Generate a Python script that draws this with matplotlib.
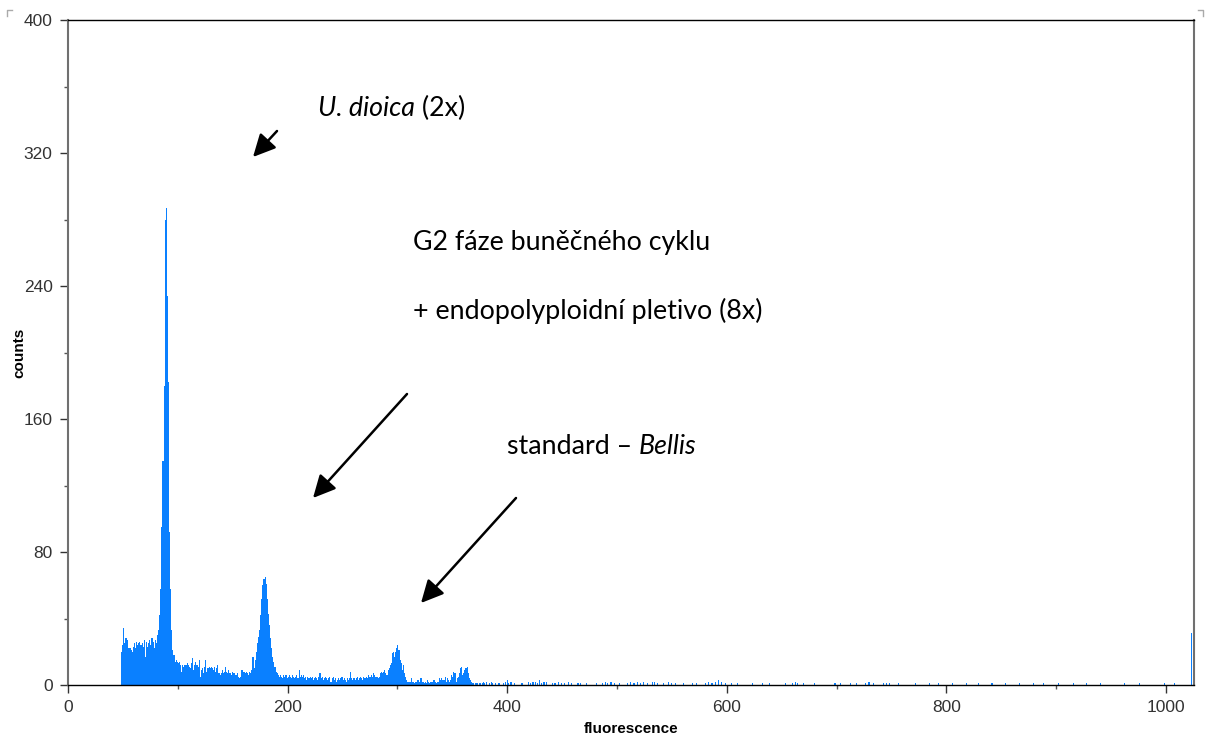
import numpy as np
import matplotlib
matplotlib.use("Agg")
import matplotlib.pyplot as plt
from matplotlib.patches import FancyArrowPatch

# ---- data: counts per channel (dense part, channels 48..380) ----
dense_start = 48
dense_counts = [
    # 48-97
    20, 24, 34, 25, 28, 28, 27, 22, 22, 21, 20, 23, 25, 22, 26, 24, 25, 26, 24, 25,
    23, 27, 17, 26, 23, 25, 27, 24, 28, 26, 22, 27, 25, 30, 33, 42, 58, 95, 135, 180,
    280, 287, 234, 182, 92, 58, 33, 21, 18, 14,
    # 98-190
    15, 14, 13, 14, 12, 8, 12, 11, 12, 12, 13, 12, 11, 10, 13, 16, 9, 12, 14, 12,
    11, 15, 5, 9, 10, 7, 11, 15, 8, 10, 11, 10, 11, 10, 9, 11, 8, 10, 12, 7,
    6, 7, 9, 7, 8, 11, 8, 7, 9, 7, 6, 8, 7, 7, 6, 6, 7, 5, 4, 5,
    9, 8, 8, 7, 8, 7, 6, 8, 7, 9, 17, 10, 15, 20, 25, 29, 33, 42, 52, 60,
    64, 65, 61, 52, 43, 36, 28, 22, 17, 14, 11, 8, 7,
    # 191-280
    6, 5, 6, 5, 4, 6, 5, 6, 4, 5, 6, 5, 4, 6, 5, 4, 5, 6, 4, 9,
    5, 6, 5, 6, 4, 5, 3, 5, 4, 5, 4, 5, 3, 4, 5, 4, 3, 5, 7, 4,
    5, 3, 4, 5, 4, 3, 4, 5, 2, 4, 5, 3, 4, 2, 3, 4, 3, 4, 5, 3,
    4, 3, 2, 4, 3, 4, 8, 4, 3, 4, 3, 4, 5, 3, 4, 5, 4, 3, 5, 4,
    5, 4, 6, 5, 5, 6, 5, 7, 6, 5,
    # 281-380
    5, 4, 5, 7, 8, 7, 8, 9, 7, 6, 9, 10, 12, 13, 19, 20, 17, 20, 22, 24,
    21, 15, 13, 9, 12, 7, 5, 3, 2, 2, 2, 4, 2, 2, 1, 2, 2, 3, 3, 2,
    4, 2, 2, 1, 2, 1, 3, 2, 1, 2, 2, 3, 3, 2, 1, 2, 2, 4, 3, 4,
    3, 3, 5, 2, 4, 3, 2, 3, 6, 5, 8, 7, 2, 4, 5, 7, 10, 11, 6, 7,
    9, 10, 11, 7, 4, 3, 2, 1, 1, 0, 1, 1, 0, 1, 1, 0, 1, 2, 1, 0,
]

# ---- sparse part (channels above 380) ----
sparse_channels = [
    381, 383, 385, 386, 389, 392, 396, 398, 400, 401, 403, 406, 413, 419, 421, 423,
    425, 427, 429, 431, 433, 435, 441, 443, 446, 449, 452, 455, 458, 464, 466, 472,
    481, 486, 489, 491, 494, 497, 502, 509, 512, 515, 518, 521, 524, 527, 532, 534,
    536, 542, 546, 549, 553, 560, 568, 572, 580, 583, 586, 589, 592, 595, 598, 604,
    609, 623, 632, 638, 653, 659, 662, 664, 669, 679, 698, 703, 712, 718, 726, 729,
    733, 742, 745, 748, 756, 771, 784, 792, 805, 818, 829, 841, 853, 866, 879, 888,
    902, 915, 927, 940, 962, 975, 998, 1007, 1023,
]
sparse_counts = [
    2, 1, 2, 1, 1, 1, 1, 2, 3, 1, 2, 1, 1, 2, 1, 2,
    2, 1, 3, 1, 2, 2, 1, 1, 2, 1, 1, 2, 1, 1, 1, 1,
    1, 1, 2, 1, 2, 1, 1, 1, 2, 1, 2, 1, 2, 1, 2, 2,
    1, 1, 2, 1, 1, 1, 1, 1, 1, 2, 1, 2, 3, 2, 1, 1,
    1, 1, 1, 1, 1, 1, 2, 1, 1, 1, 1, 1, 1, 1, 1, 2,
    1, 1, 1, 1, 1, 1, 1, 1, 1, 1, 1, 1, 1, 1, 1, 1,
    1, 1, 1, 1, 1, 1, 1, 1, 31,
]

x_ticks = [0, 200, 400, 600, 800, 1000]
y_ticks = [0, 80, 160, 240, 320, 400]

channels = list(range(dense_start, dense_start + len(dense_counts))) + sparse_channels
counts = list(dense_counts) + sparse_counts

W, H = 1210, 737
fig = plt.figure(figsize=(W / 100, H / 100), dpi=100)
ax = fig.add_axes([68 / W, 1 - 685 / H, (1194 - 68) / W, (685 - 20) / H])

ax.bar(channels, counts, width=1.0, align="edge", color="#0a80ff", linewidth=0)

ax.set_xlim(0, 1025.5)
ax.set_ylim(0, 400)
ax.set_xticks(x_ticks)
ax.set_yticks(y_ticks)
ax.set_xticks(np.arange(100, 1025, 200), minor=True)
ax.set_yticks(np.arange(40, 400, 80), minor=True)

tick_font = dict(family="Liberation Sans", size=12.5)
ax.set_xticklabels([str(v) for v in x_ticks], color="#333333", **tick_font)
ax.set_yticklabels([str(v) for v in y_ticks], color="#333333", **tick_font)
ax.tick_params(axis="both", which="major", length=6, width=1, color="#333333", pad=5)
ax.tick_params(axis="both", which="minor", length=3, width=1, color="#555555")

for s in ("top", "bottom"):
    ax.spines[s].set_color("black")
    ax.spines[s].set_linewidth(1.0)
for s in ("left", "right"):
    ax.spines[s].set_color("#707070")
    ax.spines[s].set_linewidth(1.5)

ax.set_xlabel("fluorescence", family="Liberation Sans", fontweight="bold", fontsize=11, labelpad=5)
ax.set_ylabel("counts", family="Liberation Sans", fontweight="bold", fontsize=11, labelpad=-2)


def fx(px):
    return px / W


def fy(py):
    return 1 - py / H


renderer = fig.canvas.get_renderer()
ann_font = dict(family="Lato", size=19.3, color="black", va="center", ha="left")


def text_run(x_px, y_px, parts):
    """Draw consecutive text pieces (text, style) on one line."""
    x = x_px
    for txt, style in parts:
        t = fig.text(fx(x), fy(y_px), txt, style=style, **ann_font)
        bb = t.get_window_extent(renderer=renderer)
        x += bb.width


text_run(318, 108, [("U. dioica", "italic"), (" (2x)", "normal")])
text_run(413, 243, [("G2 fáze buněčného cyklu", "normal")])
text_run(413, 311, [("+ endopolyploidní pletivo (8x)", "normal")])
text_run(507, 447, [("standard – ", "normal"), ("Bellis", "italic")])

arrows = [((277, 131), (253, 157)), ((407, 394), (313, 498)), ((516, 498), (421, 603))]
for (x0, y0), (x1, y1) in arrows:
    a = FancyArrowPatch((fx(x0), fy(y0)), (fx(x1), fy(y1)), transform=fig.transFigure,
                        arrowstyle="-|>,head_length=0.85,head_width=0.42",
                        mutation_scale=16, color="black", linewidth=1.8,
                        shrinkA=0, shrinkB=0)
    fig.add_artist(a)

# small corner marks of the original screenshot
fig.add_artist(plt.Line2D([fx(7), fx(7), fx(12)], [fy(16), fy(10), fy(10)],
                          transform=fig.transFigure, color="#aaaaaa", linewidth=1))
fig.add_artist(plt.Line2D([fx(1198), fx(1203), fx(1203)], [fy(10), fy(10), fy(16)],
                          transform=fig.transFigure, color="#aaaaaa", linewidth=1))

fig.savefig("out.png", dpi=100)
